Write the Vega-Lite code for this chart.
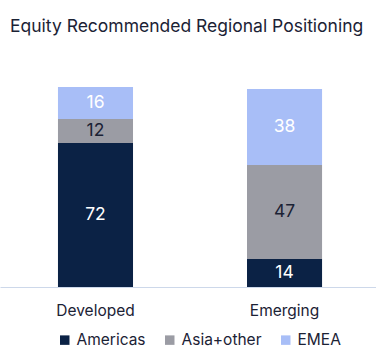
{
  "$schema": "https://vega.github.io/schema/vega-lite/v6.json",
  "width": 376,
  "height": 200,
  "autosize": "none",
  "padding": {"top": 87, "left": 0, "right": 0, "bottom": 72},
  "background": "white",
  "title": {
    "text": "Equity Recommended Regional Positioning",
    "anchor": "start",
    "frame": "group",
    "dx": 10,
    "offset": 52,
    "font": "Inter",
    "fontSize": 17.5,
    "fontWeight": "normal",
    "color": "#1b2235"
  },
  "config": {
    "view": {"stroke": null},
    "font": "Inter"
  },
  "data": {
    "values": [
      {"category": "Developed", "region": "Americas", "value": 72},
      {"category": "Developed", "region": "Asia+other", "value": 12},
      {"category": "Developed", "region": "EMEA", "value": 16},
      {"category": "Emerging", "region": "Americas", "value": 14},
      {"category": "Emerging", "region": "Asia+other", "value": 47},
      {"category": "Emerging", "region": "EMEA", "value": 38}
    ]
  },
  "transform": [
    {"stack": "value", "groupby": ["category"], "sort": [{"field": "region", "order": "ascending"}], "as": ["v0", "v1"]},
    {"calculate": "(datum.v0 + datum.v1) / 2", "as": "mid"}
  ],
  "encoding": {
    "x": {
      "field": "category",
      "type": "nominal",
      "scale": {"paddingInner": 0.603, "paddingOuter": 0.296, "align": 0.518},
      "axis": {
        "title": null,
        "labelAngle": 0,
        "ticks": false,
        "domainColor": "#cdd8ea",
        "domainWidth": 1,
        "labelFont": "Inter",
        "labelFontSize": 15.5,
        "labelColor": "#1b2235",
        "labelPadding": 16
      }
    }
  },
  "layer": [
    {
      "mark": {"type": "bar"},
      "encoding": {
        "y": {"field": "v0", "type": "quantitative", "scale": {"domain": [0, 100]}, "axis": null},
        "y2": {"field": "v1"},
        "color": {
          "field": "region",
          "type": "nominal",
          "scale": {"domain": ["Americas", "Asia+other", "EMEA"], "range": ["#0b2245", "#9b9ca4", "#a8bef7"]},
          "legend": {
            "title": null,
            "orient": "none",
            "legendX": 57,
            "legendY": 245,
            "direction": "horizontal",
            "symbolType": "square",
            "symbolSize": 90,
            "symbolStrokeWidth": 0,
            "labelFont": "Inter",
            "labelFontSize": 15.5,
            "labelColor": "#1b2235",
            "columnPadding": 16,
            "labelOffset": 4
          }
        }
      }
    },
    {
      "mark": {"type": "text", "font": "Inter", "fontSize": 17.5, "baseline": "middle", "align": "center"},
      "encoding": {
        "y": {"field": "mid", "type": "quantitative", "scale": {"domain": [0, 100]}},
        "text": {"field": "value", "type": "quantitative"},
        "color": {
          "condition": {"test": "datum.region === 'Asia+other'", "value": "#1b2235"},
          "value": "#ffffff"
        }
      }
    }
  ]
}
